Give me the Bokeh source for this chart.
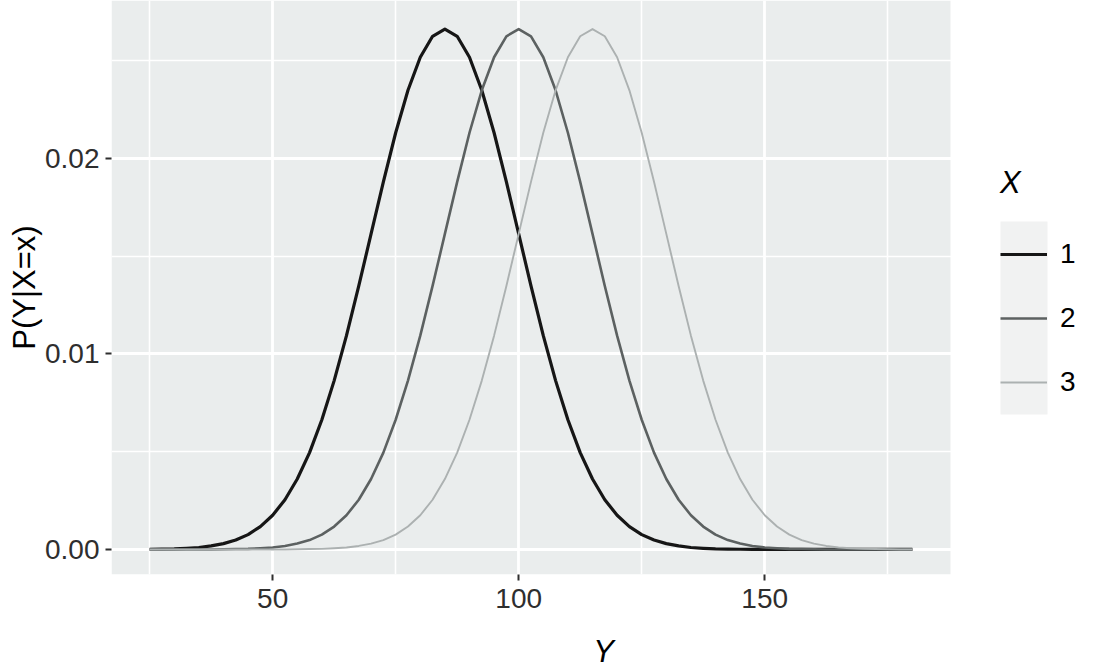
from bokeh.plotting import figure
from bokeh.models import (Legend, LegendItem, FixedTicker, NumeralTickFormatter,
                          BoxAnnotation, Range1d)
from bokeh.embed import file_html
from bokeh.resources import INLINE

# ---- data ----
y_values = [25.0, 27.5, 30.0, 32.5, 35.0, 37.5, 40.0, 42.5, 45.0, 47.5,
            50.0, 52.5, 55.0, 57.5, 60.0, 62.5, 65.0, 67.5, 70.0, 72.5,
            75.0, 77.5, 80.0, 82.5, 85.0, 87.5, 90.0, 92.5, 95.0, 97.5,
            100.0, 102.5, 105.0, 107.5, 110.0, 112.5, 115.0, 117.5, 120.0, 122.5,
            125.0, 127.5, 130.0, 132.5, 135.0, 137.5, 140.0, 142.5, 145.0, 147.5,
            150.0, 152.5, 155.0, 157.5, 160.0, 162.5, 165.0, 167.5, 170.0, 172.5,
            175.0, 177.5, 180.0]

p_x1 = [0.00001, 0.00002, 0.00003, 0.00006, 0.00010, 0.00018, 0.00030, 0.00048, 0.00076, 0.00117,
        0.00175, 0.00254, 0.00360, 0.00495, 0.00663, 0.00863, 0.01093, 0.01347, 0.01613, 0.01879,
        0.02130, 0.02347, 0.02516, 0.02623, 0.02660, 0.02623, 0.02516, 0.02347, 0.02130, 0.01879,
        0.01613, 0.01347, 0.01093, 0.00863, 0.00663, 0.00495, 0.00360, 0.00254, 0.00175, 0.00117,
        0.00076, 0.00048, 0.00030, 0.00018, 0.00010, 0.00006, 0.00003, 0.00002, 0.00001, 0.0,
        0.0, 0.0, 0.0, 0.0, 0.0, 0.0, 0.0, 0.0, 0.0, 0.0,
        0.0, 0.0, 0.0]

p_x2 = [0.0, 0.0, 0.0, 0.0, 0.0, 0.0, 0.00001, 0.00002, 0.00003, 0.00006,
        0.00010, 0.00018, 0.00030, 0.00048, 0.00076, 0.00117, 0.00175, 0.00254, 0.00360, 0.00495,
        0.00663, 0.00863, 0.01093, 0.01347, 0.01613, 0.01879, 0.02130, 0.02347, 0.02516, 0.02623,
        0.02660, 0.02623, 0.02516, 0.02347, 0.02130, 0.01879, 0.01613, 0.01347, 0.01093, 0.00863,
        0.00663, 0.00495, 0.00360, 0.00254, 0.00175, 0.00117, 0.00076, 0.00048, 0.00030, 0.00018,
        0.00010, 0.00006, 0.00003, 0.00002, 0.00001, 0.0, 0.0, 0.0, 0.0, 0.0,
        0.0, 0.0, 0.0]

p_x3 = [0.0, 0.0, 0.0, 0.0, 0.0, 0.0, 0.0, 0.0, 0.0, 0.0,
        0.0, 0.0, 0.00001, 0.00002, 0.00003, 0.00006, 0.00010, 0.00018, 0.00030, 0.00048,
        0.00076, 0.00117, 0.00175, 0.00254, 0.00360, 0.00495, 0.00663, 0.00863, 0.01093, 0.01347,
        0.01613, 0.01879, 0.02130, 0.02347, 0.02516, 0.02623, 0.02660, 0.02623, 0.02516, 0.02347,
        0.02130, 0.01879, 0.01613, 0.01347, 0.01093, 0.00863, 0.00663, 0.00495, 0.00360, 0.00254,
        0.00175, 0.00117, 0.00076, 0.00048, 0.00030, 0.00018, 0.00010, 0.00006, 0.00003, 0.00002,
        0.00001, 0.0, 0.0]

series_labels = ["1", "2", "3"]
x_major_ticks = [50, 100, 150]
x_minor_ticks = [25, 75, 125, 175]
y_major_ticks = [0.0, 0.01, 0.02]
y_minor_ticks = [0.005, 0.015, 0.025]

# ---- styling ----
PANEL = "#EAEDED"
KEYBG = "#F1F2F2"
TEXT = "#2e2e2e"
FONT = "'Liberation Sans', Arial, sans-serif"
colors = ["#161616", "#5c6161", "#acb1b1"]
widths = [3.2, 2.6, 1.9]

# panel spans x in [17.25, 187.75]; the frame continues to the right to host the legend
X_PANEL = (17.25, 187.75)

p = figure(width=1095, height=671, output_backend="svg", toolbar_location=None,
           x_range=Range1d(17.25, 217.22), y_range=Range1d(-0.00128, 0.02806),
           min_border_left=111, min_border_right=0, min_border_top=0,
           min_border_bottom=96)
p.background_fill_color = "white"
p.border_fill_color = "white"
p.outline_line_color = None

panel_box = BoxAnnotation(left=X_PANEL[0], right=X_PANEL[1], fill_color=PANEL,
                          fill_alpha=1.0, line_color=None, level="underlay")
p.center = [panel_box] + list(p.center)

renderers = []
for ys, c, w in zip([p_x1, p_x2, p_x3], colors, widths):
    r = p.line(y_values, ys, line_color=c, line_width=w, line_join="round")
    renderers.append(r)

# ticks
p.xaxis.ticker = FixedTicker(ticks=x_major_ticks, minor_ticks=x_minor_ticks)
p.yaxis.ticker = FixedTicker(ticks=y_major_ticks, minor_ticks=y_minor_ticks)
p.yaxis.formatter = NumeralTickFormatter(format="0.00")

for ax in (p.xaxis, p.yaxis):
    ax.axis_line_color = None
    ax.major_tick_line_color = TEXT
    ax.major_tick_line_width = 2
    ax.major_tick_out = 6
    ax.major_tick_in = 0
    ax.minor_tick_out = 0
    ax.minor_tick_in = 0
    ax.major_label_text_font = FONT
    ax.major_label_text_font_size = "28px"
    ax.major_label_text_color = TEXT
    ax.axis_label_text_font = FONT
    ax.axis_label_text_font_size = "31px"
    ax.axis_label_text_color = "black"

p.xaxis.axis_label = "Y"
p.xaxis.axis_label_text_font_style = "italic"
p.xaxis.major_label_standoff = 8
p.xaxis.axis_label_standoff = 23
p.yaxis.axis_label = "P(Y|X=x)"
p.yaxis.axis_label_text_font_style = "normal"
p.yaxis.major_label_standoff = 6
p.yaxis.axis_label_standoff = 0

# grid (white, so it disappears outside the panel)
for g in (p.xgrid, p.ygrid):
    g.grid_line_color = "white"
    g.grid_line_width = 2.8
    g.minor_grid_line_color = "white"
    g.minor_grid_line_width = 1.6

# legend key background
key_bg = BoxAnnotation(left=889, right=936, bottom=160, top=353,
                       left_units="screen", right_units="screen",
                       bottom_units="screen", top_units="screen",
                       fill_color=KEYBG, fill_alpha=1.0, line_color=None)
p.add_layout(key_bg)

legend = Legend(items=[LegendItem(label=l, renderers=[r]) for l, r in zip(series_labels, renderers)],
                location=(889, 160), title="X")
legend.padding = 0
legend.margin = 0
legend.border_line_color = None
legend.background_fill_alpha = 0
legend.glyph_width = 47
legend.glyph_height = 64
legend.label_height = 64
legend.spacing = 0
legend.label_standoff = 13
legend.label_text_font = FONT
legend.label_text_font_size = "28px"
legend.label_text_color = "black"
legend.title_text_font = FONT
legend.title_text_font_size = "31px"
legend.title_text_font_style = "italic"
legend.title_text_color = "black"
legend.title_standoff = 21
p.add_layout(legend)

open("out.html", "w").write(file_html(p, INLINE))
